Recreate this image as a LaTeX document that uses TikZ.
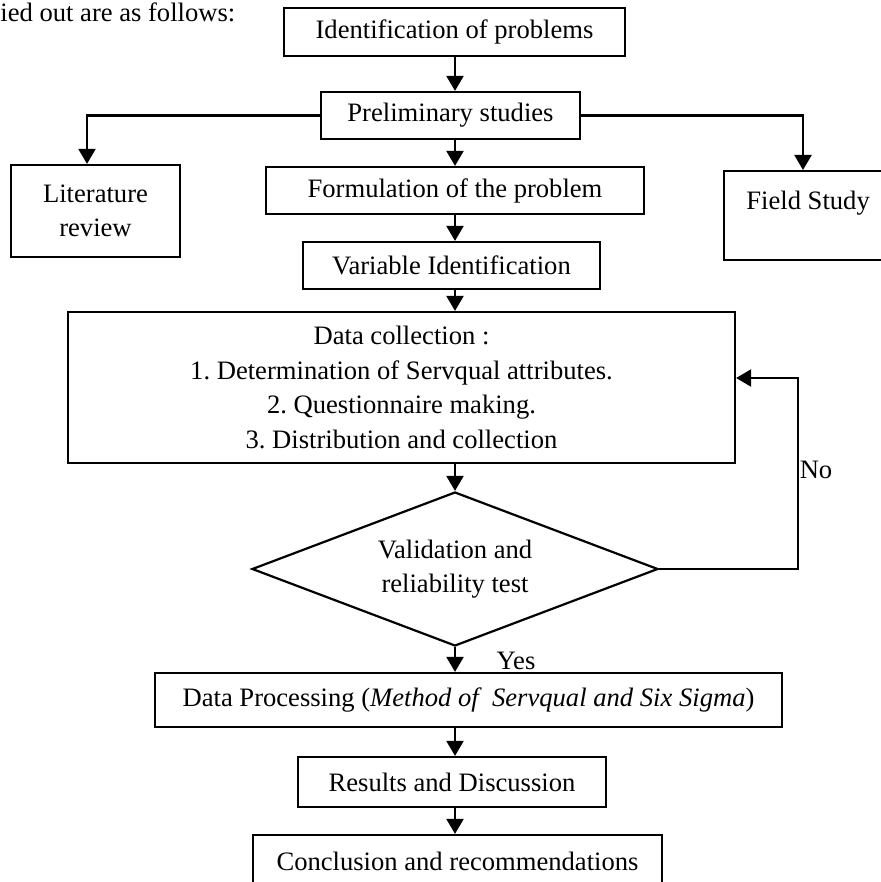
\documentclass[tikz,border=0pt]{standalone}
\usepackage{fontspec}
\setmainfont{Liberation Serif}
\frenchspacing
\usetikzlibrary{arrows.meta,shapes.geometric}
\tikzset{
	stepbox/.style={draw,line width=1.1pt,inner sep=0pt,align=center,font=\fontsize{13.3}{17.2}\selectfont},
	flow/.style={line width=1.1pt,-{Triangle[length=7.5pt,width=8.5pt]}},
	plain/.style={inner sep=0pt,font=\fontsize{13.3}{17.2}\selectfont}
}
\begin{document}
\begin{tikzpicture}[x=0.5pt,y=-0.5pt]
	\useasboundingbox (0,0) rectangle (881,882);
	\coordinate (spine) at (455,0);
	\coordinate (litx) at (87,0);
	\coordinate (fieldx) at (803,0);
	\coordinate (noturn) at (798,378);
	\node[plain,anchor=base west] (intro) at (0,22) {ied out are as follows:};
	\node[stepbox,minimum width=170.5pt,minimum height=24pt] (ident) at (454.5,32) {Identification of problems};
	\node[stepbox,minimum width=129.5pt,minimum height=23.5pt] (prelim) at (450.5,115.5) {Preliminary studies};
	\node[stepbox,minimum width=84.5pt,minimum height=46pt] (lit) at (95.5,211) {Literature\\review};
	\node[stepbox,anchor=north west,minimum width=84pt,text height=19pt,text depth=25.5pt] (field) at (723,170) {Field Study};
	\node[stepbox,minimum width=189pt,minimum height=23.5pt] (form) at (455,190.5) {Formulation of the problem};
	\node[stepbox,minimum width=148.5pt,minimum height=23.5pt] (var) at (451.5,265.5) {Variable Identification};
	\node[stepbox,minimum width=333.5pt,minimum height=75.5pt] (data) at (401.5,387.5) {Data collection :\\1. Determination of Servqual attributes.\\2. Questionnaire making.\\3. Distribution and collection};
	\node[stepbox,diamond,aspect=2.64,minimum width=203pt,minimum height=77pt] (valid) at (455,569) {Validation and\\reliability test};
	\node[stepbox,minimum width=313.5pt,minimum height=27pt] (proc) at (468.5,700) {Data Processing (\textit{Method of\ \ Servqual and Six Sigma})};
	\node[stepbox,minimum width=154pt,minimum height=25pt] (res) at (452,782) {Results and Discussion};
	\node[stepbox,minimum width=204.5pt,minimum height=26pt] (concl) at (457.5,861) {Conclusion and recommendations};
	\node[plain] (yes) at (516,661) {Yes};
	\node[plain] (no) at (816,470) {No};
	\draw[flow] (ident.south -| spine) -- (prelim.north -| spine);
	\draw[flow] (prelim.west) -| (lit.north -| litx);
	\draw[flow] (prelim.east) -| (field.north -| fieldx);
	\draw[flow] (prelim.south -| spine) -- (form.north -| spine);
	\draw[flow] (form.south -| spine) -- (var.north -| spine);
	\draw[flow] (var.south -| spine) -- (data.north -| spine);
	\draw[flow] (data.south -| spine) -- (valid.north);
	\draw[flow] (valid.east) -| (noturn) -- (noturn -| data.east);
	\draw[flow] (valid.south) -- (proc.north -| valid.south);
	\draw[flow] (proc.south -| spine) -- (res.north -| spine);
	\draw[flow] (res.south -| spine) -- (concl.north -| spine);
\end{tikzpicture}
\end{document}
